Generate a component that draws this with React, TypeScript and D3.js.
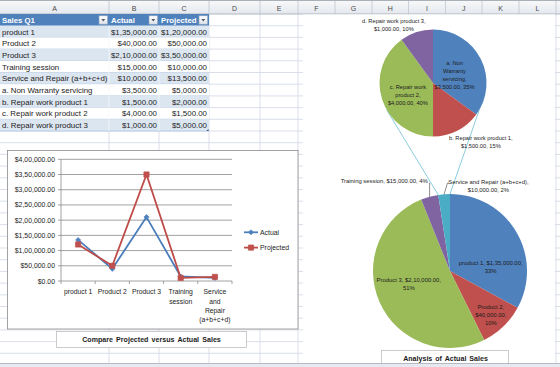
import React from 'react';
import * as d3 from 'd3';

// ---------- DATA ----------
const salesItems = ['product 1', 'Product 2', 'Product 3', 'Training session', 'Service and Repair (a+b+c+d)'];
const salesActual = [135000, 40000, 210000, 15000, 10000];
const salesProjected = [120000, 50000, 350000, 10000, 13500];
const repairItems = ['a. Non Warranty servicing', 'b. Repair work product 1', 'c. Repair work product 2', 'd. Repair work product 3'];
const repairActual = [3500, 1500, 4000, 1000];
const repairProjected = [5000, 2000, 1500, 5000];
const tableHeaders = ['Sales Q1', 'Actual', 'Projected'];
const columnLetters = ['A', 'B', 'C', 'D', 'E', 'F', 'G', 'H', 'I', 'J', 'K', 'L'];
const yTickValues = [0, 50000, 100000, 150000, 200000, 250000, 300000, 350000, 400000];
const axisLabelLines = [['product 1'], ['Product 2'], ['Product 3'], ['Training', 'session'], ['Service', 'and', 'Repair', '(a+b+c+d)']];
const seriesNames = ['Actual', 'Projected'];
const lineChartTitle = 'Compare Projected versus Actual Sales';
const pieChartTitle = 'Analysis of Actual Sales';

// ---------- LAYOUT / STYLE ----------
const W = 560, H = 367;
const FONT = "'Liberation Sans', Arial, sans-serif";
const COL_EDGES = [0, 109, 159, 209, 260, 298, 335, 372, 408.5, 445.5, 482, 519, 556];
const ROW_TOP = 14, ROW_H = 11.7;
const GRID = '#D0D7E5';
const BLUE = '#4F81BD', RED = '#C0504D', GREEN = '#9BBB59', PURPLE = '#8064A2', TEAL = '#4BACC6';
const PIE_COLORS = [BLUE, RED, GREEN, PURPLE, TEAL];
const SUB_COLORS = [BLUE, RED, GREEN, PURPLE];

const inLocale = d3.formatLocale({ decimal: '.', thousands: ',', grouping: [3, 2, 2, 2, 2, 2], currency: ['$', ''] });
const money = inLocale.format('$,.2f');
const pct = d3.format('.0%');

function wrap(text: string, maxChars: number): string[] {
  const words = text.split(' ');
  const lines: string[] = [];
  let cur = '';
  for (const w of words) {
    if (!cur) cur = w;
    else if ((cur + ' ' + w).length <= maxChars) cur += ' ' + w;
    else { lines.push(cur); cur = w; }
  }
  if (cur) lines.push(cur);
  return lines;
}

const rad = (deg: number) => (deg * Math.PI) / 180;
function polar(cx: number, cy: number, angleRad: number, r: number): [number, number] {
  return [cx + r * Math.sin(angleRad), cy - r * Math.cos(angleRad)];
}

export default function App() {
  const rowLines = d3.range(1, 30).map(i => ROW_TOP + i * ROW_H);

  const tableRows = [
    ...salesItems.map((n, i) => ({ name: n, a: salesActual[i], p: salesProjected[i] })),
    ...repairItems.map((n, i) => ({ name: n, a: repairActual[i], p: repairProjected[i] })),
  ];

  // ----- line chart -----
  const plot = { x0: 61, x1: 232, y0: 281, y1: 159.3 };
  const x = d3.scaleBand<string>().domain(salesItems).range([plot.x0, plot.x1]).padding(0);
  const y = d3.scaleLinear().domain([0, 400000]).range([plot.y0, plot.y1]);
  const cx = (d: string) => (x(d) as number) + x.bandwidth() / 2;
  const line = d3.line<number>().x((_, i) => cx(salesItems[i])).y(v => y(v));
  const diamond = d3.symbol().type(d3.symbolSquare).size(13)();
  const square = d3.symbol().type(d3.symbolSquare).size(28)();
  const seriesStyle = [
    { values: salesActual, color: '#4A7EBB', fill: '#4F81BD', marker: diamond, rot: 45 },
    { values: salesProjected, color: '#BE4B48', fill: '#C0504D', marker: square, rot: 0 },
  ];

  // ----- pie of pie -----
  const big = { cx: 450, cy: 271, r: 77 };
  const small = { cx: 433, cy: 83, r: 53.5 };
  const pieGen = d3.pie<number>().sort(null).value(d => d);
  const bigArcs = pieGen(salesActual);
  const smallArcs = pieGen(repairActual);
  const bigArc = d3.arc<d3.PieArcDatum<number>>().innerRadius(0).outerRadius(big.r);
  const smallArc = d3.arc<d3.PieArcDatum<number>>().innerRadius(0).outerRadius(small.r);
  const bigTotal = d3.sum(salesActual);
  const smallTotal = d3.sum(repairActual);

  const bigLabelCfg = [
    { dA: 25.3, k: 0.53, anchor: 'middle', max: 24 },
    { dA: 1.1, k: 0.78, anchor: 'middle', max: 11 },
    { dA: 7.1, k: 0.56, anchor: 'middle', max: 24 },
    { dA: 1.5, k: 1.2, anchor: 'end', max: 40, leader: 'end' },
    { dA: 28.7, k: 1.214, anchor: 'middle', max: 29, leader: 'start' },
  ];
  const smallLabelCfg = [
    { dA: 6.4, k: 0.43, max: 14 },
    { dA: -12, k: 1.42, max: 25 },
    { dA: -7.4, k: 0.52, max: 14 },
    { dA: -16, k: 1.31, max: 25 },
  ];

  const splitSlice = bigArcs[bigArcs.length - 1];
  const connA = polar(big.cx, big.cy, splitSlice.startAngle, big.r);
  const connB = polar(big.cx, big.cy, splitSlice.endAngle, big.r);
  const smallA = polar(small.cx, small.cy, rad(240), small.r);
  const smallB = polar(small.cx, small.cy, rad(120), small.r);

  const txt = '#1c1c1c';

  return (
    <svg width={W} height={H} style={{ position: 'absolute', left: 0, top: 0, background: '#fff' }} fontFamily={FONT}>
      <defs>
        <linearGradient id="hdr" x1="0" y1="0" x2="0" y2="1">
          <stop offset="0" stopColor="#F8F9FA" />
          <stop offset="1" stopColor="#E4E8EE" />
        </linearGradient>
        <linearGradient id="btn" x1="0" y1="0" x2="0" y2="1">
          <stop offset="0" stopColor="#FFFFFF" />
          <stop offset="1" stopColor="#DDE3EA" />
        </linearGradient>
      </defs>
      <rect x={0} y={0} width={W} height={H} fill="#fff" />

      {/* grid */}
      {rowLines.map((yy, i) => (
        <line key={'r' + i} x1={0} x2={W} y1={yy} y2={yy} stroke={GRID} strokeWidth={0.8} />
      ))}
      {COL_EDGES.slice(1).map((xx, i) => (
        <line key={'c' + i} x1={xx} x2={xx} y1={ROW_TOP} y2={H} stroke={GRID} strokeWidth={0.8} />
      ))}

      {/* column header row */}
      <rect x={0} y={0} width={W} height={ROW_TOP} fill="url(#hdr)" />
      <line x1={0} x2={W} y1={0.5} y2={0.5} stroke="#A9B0B8" strokeWidth={1} />
      <line x1={0} x2={W} y1={ROW_TOP} y2={ROW_TOP} stroke="#9EA7B2" strokeWidth={0.8} />
      {COL_EDGES.slice(1).map((xx, i) => (
        <line key={'hc' + i} x1={xx} x2={xx} y1={1} y2={ROW_TOP} stroke="#BFC6CF" strokeWidth={0.8} />
      ))}
      {columnLetters.map((l, i) => (
        <text key={'cl' + i} x={(COL_EDGES[i] + COL_EDGES[i + 1]) / 2} y={8} fontSize={7} fill="#4a4a4a"
          textAnchor="middle" dominantBaseline="central">{l}</text>
      ))}

      {/* table */}
      <rect x={0} y={ROW_TOP} width={COL_EDGES[3]} height={ROW_H} fill={BLUE} />
      {tableHeaders.map((h, i) => (
        <g key={'th' + i}>
          <text x={COL_EDGES[i] + 2} y={ROW_TOP + ROW_H / 2 + 0.5} fontSize={7.8} fontWeight="bold" fill="#fff"
            dominantBaseline="central">{h}</text>
          <rect x={COL_EDGES[i + 1] - 10} y={ROW_TOP + 1.8} width={8.6} height={8.4} fill="url(#btn)" stroke="#8EA3BD" strokeWidth={0.6} />
          <path d={`M${COL_EDGES[i + 1] - 7.6},${ROW_TOP + 5} l3.8,0 l-1.9,2.4 z`} fill="#4d5560" />
        </g>
      ))}
      {tableRows.map((r, i) => {
        const top = ROW_TOP + (i + 1) * ROW_H;
        return (
          <g key={'tr' + i}>
            <rect x={0} y={top} width={COL_EDGES[3]} height={ROW_H} fill={i % 2 === 0 ? '#DCE6F1' : '#FFFFFF'} />
            <line x1={0} x2={COL_EDGES[3]} y1={top + ROW_H} y2={top + ROW_H} stroke="#A7BFDE" strokeWidth={0.7} />
            <line x1={COL_EDGES[1]} x2={COL_EDGES[1]} y1={top} y2={top + ROW_H} stroke="#F4F7FB" strokeWidth={0.8} />
            <line x1={COL_EDGES[2]} x2={COL_EDGES[2]} y1={top} y2={top + ROW_H} stroke="#F4F7FB" strokeWidth={0.8} />
            <text x={2} y={top + ROW_H / 2 + 0.5} fontSize={7.9} fill={txt} dominantBaseline="central">{r.name}</text>
            <text x={COL_EDGES[2] - 2} y={top + ROW_H / 2 + 0.5} fontSize={7.9} fill={txt} textAnchor="end" dominantBaseline="central">{money(r.a)}</text>
            <text x={COL_EDGES[3] - 2} y={top + ROW_H / 2 + 0.5} fontSize={7.9} fill={txt} textAnchor="end" dominantBaseline="central">{money(r.p)}</text>
          </g>
        );
      })}
      <path d={`M${COL_EDGES[3] - 2.5},${ROW_TOP + 10 * ROW_H} l2,0 l0,-2 z`} fill="#1F497D" />

      {/* ---------- line chart ---------- */}
      <rect x={7.5} y={150.5} width={290.5} height={178.5} fill="#fff" stroke="#8C8C8C" strokeWidth={0.8} />
      {yTickValues.map((v, i) => (
        <g key={'yt' + i}>
          {v > 0 && <line x1={plot.x0} x2={plot.x1} y1={y(v)} y2={y(v)} stroke="#8A8A8A" strokeWidth={0.8} />}
          <line x1={plot.x0 - 3} x2={plot.x0} y1={y(v)} y2={y(v)} stroke="#8A8A8A" strokeWidth={0.8} />
          <text x={55} y={y(v)} fontSize={6.9} fill={txt} textAnchor="end" dominantBaseline="central">{money(v)}</text>
        </g>
      ))}
      <line x1={plot.x0} x2={plot.x0} y1={plot.y1} y2={plot.y0} stroke="#8A8A8A" strokeWidth={0.8} />
      <line x1={plot.x0} x2={plot.x1} y1={plot.y0} y2={plot.y0} stroke="#8A8A8A" strokeWidth={0.8} />
      {salesItems.map((c, i) => (
        <g key={'xt' + i}>
          <line x1={(x(c) as number) + x.bandwidth()} x2={(x(c) as number) + x.bandwidth()} y1={plot.y0} y2={plot.y0 + 3}
            stroke="#8A8A8A" strokeWidth={0.8} />
          {axisLabelLines[i].map((ln, j) => (
            <text key={j} x={cx(c)} y={291.7 + j * 9.4} fontSize={6.8} fill={txt} textAnchor="middle" dominantBaseline="central">{ln}</text>
          ))}
        </g>
      ))}
      <line x1={plot.x0} x2={plot.x0} y1={plot.y0} y2={plot.y0 + 3} stroke="#8A8A8A" strokeWidth={0.8} />
      {seriesStyle.map((s, si) => (
        <g key={'s' + si}>
          <path d={line(s.values) as string} fill="none" stroke={s.color} strokeWidth={1.8} strokeLinejoin="round" />
          {s.values.map((v, i) => (
            <path key={i} d={s.marker as string} transform={`translate(${cx(salesItems[i])},${y(v)}) rotate(${s.rot})`}
              fill={s.fill} stroke={s.color} strokeWidth={0.6} />
          ))}
        </g>
      ))}
      {seriesNames.map((n, i) => {
        const ly = 232.3 + i * 15.3;
        const s = seriesStyle[i];
        return (
          <g key={'lg' + i}>
            <line x1={244} x2={258} y1={ly} y2={ly} stroke={s.color} strokeWidth={1.8} />
            <path d={s.marker as string} transform={`translate(251,${ly}) rotate(${s.rot})`} fill={s.fill} stroke={s.color} strokeWidth={0.6} />
            <text x={260} y={ly} fontSize={6.9} fill={txt} dominantBaseline="central">{n}</text>
          </g>
        );
      })}
      <rect x={56.5} y={331.5} width={190} height={16} fill="#fff" stroke="#BFBFBF" strokeWidth={0.8} />
      <text x={151.5} y={339.8} fontSize={7.1} fontWeight="bold" fill={txt} textAnchor="middle" dominantBaseline="central"
        wordSpacing={1.2}>{lineChartTitle}</text>

      {/* ---------- pie of pie ---------- */}
      <rect x={303} y={ROW_TOP + 0.5} width={252} height={349} fill="#fff" />
      <line x1={connA[0]} y1={connA[1]} x2={smallA[0]} y2={smallA[1]} stroke="#7CC5D7" strokeWidth={0.9} />
      <line x1={connB[0]} y1={connB[1]} x2={smallB[0]} y2={smallB[1]} stroke="#7CC5D7" strokeWidth={0.9} />
      <g transform={`translate(${big.cx},${big.cy})`}>
        {bigArcs.map((a, i) => (
          <path key={i} d={bigArc(a) as string} fill={PIE_COLORS[i]} />
        ))}
      </g>
      <g transform={`translate(${small.cx},${small.cy})`}>
        {smallArcs.map((a, i) => (
          <path key={i} d={smallArc(a) as string} fill={SUB_COLORS[i]} />
        ))}
      </g>
      {bigArcs.map((a, i) => {
        const cfg = bigLabelCfg[i];
        const mid = (a.startAngle + a.endAngle) / 2;
        const [lx, ly] = polar(big.cx, big.cy, mid + rad(cfg.dA), big.r * cfg.k);
        const lines = wrap(`${salesItems[i]}, ${money(a.value)}, ${pct(a.value / bigTotal)}`, cfg.max);
        const lh = 8;
        const edge = polar(big.cx, big.cy, mid, big.r);
        let leader: [number, number][] | null = null;
        if (cfg.leader === 'end') {
          leader = [[lx + 1, ly + 1.8], [edge[0], ly + 1.8], edge];
        } else if (cfg.leader === 'start') {
          const st = polar(big.cx, big.cy, mid + rad(4.4), big.r * 1.152);
          leader = [[st[0] - 1, st[1] + 0.8], [st[0] - 2.6, st[1] + 0.8], edge];
        }
        return (
          <g key={'bl' + i}>
            {leader && <polyline points={leader.map(p => p.join(',')).join(' ')} fill="none" stroke="#404040" strokeWidth={0.6} />}
            {lines.map((t, j) => (
              <text key={j} x={lx} y={ly + (j - (lines.length - 1) / 2) * lh} fontSize={5.9} fill={txt}
                textAnchor={cfg.anchor as any} dominantBaseline="central">{t}</text>
            ))}
          </g>
        );
      })}
      {smallArcs.map((a, i) => {
        const cfg = smallLabelCfg[i];
        const mid = (a.startAngle + a.endAngle) / 2;
        const [lx, ly] = polar(small.cx, small.cy, mid + rad(cfg.dA), small.r * cfg.k);
        const lines = wrap(`${repairItems[i]}, ${money(a.value)}, ${pct(a.value / smallTotal)}`, cfg.max);
        const lh = 7.8;
        return (
          <g key={'sl' + i}>
            {lines.map((t, j) => (
              <text key={j} x={lx} y={ly + (j - (lines.length - 1) / 2) * lh} fontSize={5.7} fill={txt}
                textAnchor="middle" dominantBaseline="central">{t}</text>
            ))}
          </g>
        );
      })}
      <rect x={381.5} y={350.5} width={127} height={15} fill="#fff" stroke="#BFBFBF" strokeWidth={0.8} />
      <text x={445.5} y={358.6} fontSize={7.1} fontWeight="bold" fill={txt} textAnchor="middle" dominantBaseline="central"
        wordSpacing={1}>{pieChartTitle}</text>

      {/* bottom strip */}
      <rect x={0} y={363.5} width={W} height={4} fill="#E6EAF0" />
      <line x1={0} x2={W} y1={363.5} y2={363.5} stroke="#A3AAB4" strokeWidth={0.8} />
    </svg>
  );
}
